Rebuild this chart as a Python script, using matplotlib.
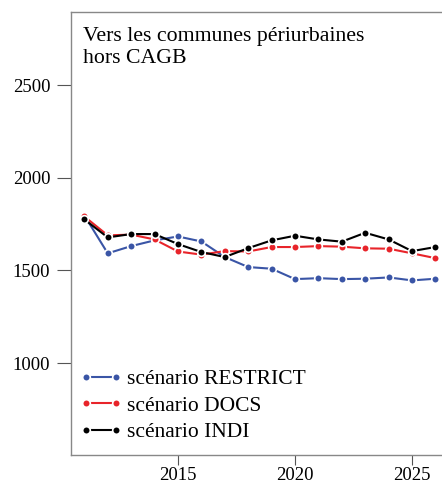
import matplotlib.pyplot as plt

plt.rcParams['font.family'] = ['Liberation Serif', 'DejaVu Serif']

# flux annuels par scénario, 2011-2026
years = list(range(2011, 2027))
restrict = [1797, 1592, 1631, 1662, 1683, 1656, 1572, 1518, 1509, 1453,
            1458, 1453, 1455, 1462, 1446, 1455]
docs = [1791, 1689, 1693, 1667, 1602, 1585, 1604, 1602, 1626, 1626,
        1631, 1628, 1619, 1617, 1592, 1566]
indi = [1775, 1678, 1696, 1696, 1642, 1599, 1572, 1620, 1662, 1687,
        1667, 1655, 1703, 1667, 1604, 1626]

series = [
    ('scénario RESTRICT', restrict, '#3a55a6'),
    ('scénario DOCS', docs, '#e8242a'),
    ('scénario INDI', indi, '#000000'),
]

fig = plt.figure(figsize=(4.42, 4.84), dpi=100)
ax = fig.add_axes([0.1606, 0.0599, 0.8394, 0.9153])

for label, vals, col in series:
    ax.plot(years, vals, color=col, lw=1.5, marker='o', ms=5.5,
            mfc=col, mec='white', mew=1.2, label=label)

ax.set_xlim(2010.43, 2026.28)
ax.set_ylim(504, 2894)
ax.set_xticks([2015, 2020, 2025])
ax.set_yticks([1000, 1500, 2000, 2500])
ax.tick_params(axis='both', labelsize=13.5, width=0.8, color='#555555')
ax.tick_params(axis='y', length=10, pad=5)
ax.tick_params(axis='x', length=7, pad=1.5)

for side in ['left', 'bottom', 'top']:
    ax.spines[side].set_color('#888888')
    ax.spines[side].set_linewidth(1.0)
ax.spines['right'].set_visible(False)

ax.text(0.033, 0.966, 'Vers les communes périurbaines\nhors CAGB',
        transform=ax.transAxes, ha='left', va='top', fontsize=15.7,
        linespacing=1.2)

ax.legend(loc='lower left', bbox_to_anchor=(-0.017, -0.005), frameon=False,
          fontsize=15.5, numpoints=2, handlelength=2.0, handletextpad=0.2,
          labelspacing=0.3, borderaxespad=0.3)

fig.savefig('out.png', dpi=100)
